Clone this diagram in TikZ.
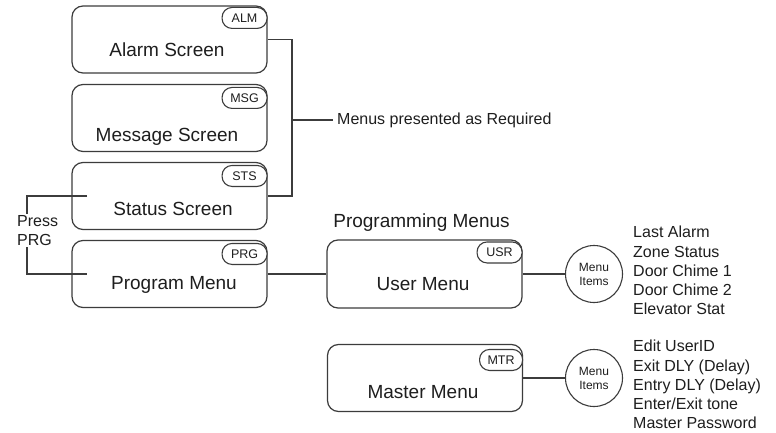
\documentclass[tikz,border=0pt]{standalone}
\usepackage{fontspec}
\setmainfont{Liberation Sans}
\usetikzlibrary{calc}
\definecolor{ln}{HTML}{3C3C3C}
\definecolor{txt}{HTML}{1E1E1E}
\begin{document}
\begin{tikzpicture}[x=1pt,y=-1pt,
  screen/.style={draw=ln, line width=1.2pt, rounded corners=11pt, minimum width=195pt, minimum height=67pt, inner sep=0pt, fill=white},
  tagbox/.style={draw=ln, line width=1.1pt, rounded corners=10pt, minimum width=45pt, minimum height=21pt, inner sep=0pt, fill=white, text=txt, font=\fontsize{12.5}{14}\selectfont, anchor=north east},
  title/.style={text=txt, font=\fontsize{19}{22}\selectfont, inner sep=0pt, anchor=base},
  conn/.style={draw=ln, line width=1.1pt},
  note/.style={text=txt, font=\fontsize{16}{19.2}\selectfont, align=left},
  bubble/.style={circle, draw=ln, line width=1.1pt, minimum size=57pt, inner sep=0pt, text=txt, font=\fontsize{12}{14}\selectfont, align=center}]
\useasboundingbox[fill=white] (0,0) rectangle (776,433);

% left column screens
\node[screen] (alm) at (169.5,39.5) {};
\node[screen] (msg) at (169.5,118) {};
\node[screen] (sts) at (169.5,196) {};
\node[screen] (prg) at (169.5,274) {};
% programming menus
\node[screen, minimum height=68pt] (usr) at (424.5,274) {};
\node[screen] (mtr) at (425,378) {};

% tags
\node[tagbox] (almtag) at ($(alm.north east)+(0,1.5)$) {ALM};
\node[tagbox] (msgtag) at ($(msg.north east)+(0,3)$) {MSG};
\node[tagbox] (ststag) at ($(sts.north east)+(0,3)$) {STS};
\node[tagbox] (prgtag) at ($(prg.north east)+(0,3)$) {PRG};
\node[tagbox] (usrtag) at ($(usr.north east)+(0,2)$) {USR};
\node[tagbox, minimum width=43pt] (mtrtag) at ($(mtr.north east)+(0,5)$) {MTR};

% screen labels
\node[title] (almlbl) at (167,57) {Alarm Screen};
\node[title] (msglbl) at (167,141.5) {Message Screen};
\node[title] (stslbl) at (173,215.5) {Status Screen};
\node[title] (prglbl) at (174,289) {Program Menu};
\node[title] (usrlbl) at (423,290) {User Menu};
\node[title] (mtrlbl) at (423,398) {Master Menu};
\node[title] (pmtitle) at (421.5,227.5) {Programming Menus};

% bracket: menus presented as required
\coordinate (busTop) at (292,39.5);
\coordinate (busMid) at (292,120);
\coordinate (busBot) at (292,196);
\draw[conn] (alm.east) -- (busTop) -- (busBot) -- (sts.east);
\node[note, anchor=west, inner sep=4pt] (req) at (333,120) {Menus presented as Required};
\draw[conn] (busMid) -- (req.west);

% press PRG loop
\coordinate (pIn) at (87,196);
\coordinate (pL1) at (27,196);
\coordinate (pL2) at (27,274);
\coordinate (pOut) at (87,274);
\draw[conn] (pIn) -- (pL1) -- (pL2) -- (pOut);
\node[note, anchor=west, fill=white, inner sep=1pt, font=\fontsize{16}{19}\selectfont] (press) at (16,230.5) {Press\\PRG};

% program -> user
\draw[conn] (prg.east) -- (usr.west);

% menu item bubbles
\node[bubble] (uitems) at (594,274) {Menu\\Items};
\node[bubble] (mitems) at (594,378) {Menu\\Items};
\draw[conn] (usr.east) -- (uitems.west);
\draw[conn] (mtr.east) -- (mitems.west);

% lists
\node[note, anchor=west, inner sep=0pt] (ulist) at (633,270.5) {Last Alarm\\Zone Status\\Door Chime 1\\Door Chime 2\\Elevator Stat};
\node[note, anchor=west, inner sep=0pt] (mlist) at (633,384.5) {Edit UserID\\Exit DLY (Delay)\\Entry DLY (Delay)\\Enter/Exit tone\\Master Password};
\end{tikzpicture}
\end{document}
